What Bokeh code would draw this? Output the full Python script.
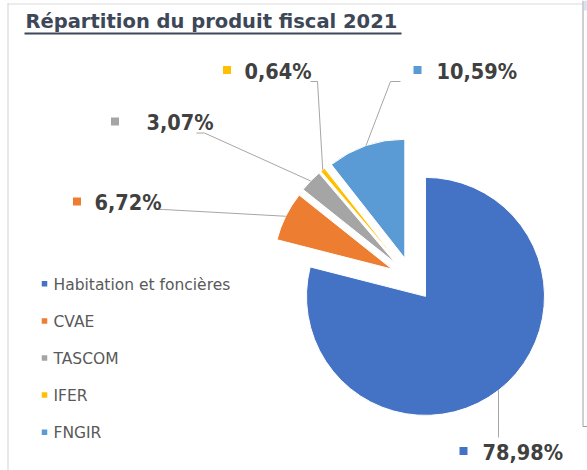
import numpy as np
from bokeh.plotting import figure
from bokeh.models import Range1d
from bokeh.core.properties import value
from bokeh.embed import file_html
from bokeh.resources import INLINE

# ---------------- data ----------------
title_text = "Répartition du produit fiscal 2021"
categories = ["Habitation et foncières", "CVAE", "TASCOM", "IFER", "FNGIR"]
shares = [78.98, 6.72, 3.07, 0.64, 10.59]
colors = ["#4472C4", "#ED7D31", "#A5A5A5", "#FFC000", "#5B9BD5"]

# ---------------- layout ----------------
W, H = 587, 470
def sx(X):
    return X
def sy(Y):
    return H - Y

TXT_K = 0.38   # baseline correction (fraction of font size)
def by(Y, fs):
    return sy(Y - TXT_K * fs)

CX, CY = 411.5, 278.5     # pie centre (picture px)
R = 119                   # radius in px
EXPLODE = 22              # explosion offset in px

# label layout per category: text_x, baseline_y, square_x, leader start, leader knee
label_layout = [
    (482, 460, 463, (498, 437), (498, 437)),
    (94, 210.5, 76.5, (158, 209), (163, 209)),
    (146, 130.5, 114.5, (196, 132.5), (204, 132.5)),
    (244, 79, 226.5, (310, 81), (317, 81)),
    (436, 79, 417, (400, 81), (390, 81)),
]
LABEL_FS = 21.5

LEG_SQ_X, LEG_TX_X, LEG_Y0, LEG_STEP = 44, 53, 283.3, 37.1
LEG_FS = 15.5
TITLE_FS = 19.5

LABEL_FONT = "DejaVu Sans Condensed"
TEXT_FONT = "DejaVu Sans"

p = figure(width=W, height=H, output_backend="svg", toolbar_location=None,
           x_range=Range1d(0, W), y_range=Range1d(0, H),
           x_axis_type=None, y_axis_type=None, min_border=0)
p.grid.visible = False
p.outline_line_color = None
p.background_fill_color = "white"
p.border_fill_color = "white"

# chart area borders
p.segment(x0=[7.5, 7], y0=[sy(3), sy(3.5)], x1=[7.5, 582], y1=[0, sy(3.5)],
          line_color="#d9d9d9", line_width=1.2)
p.line(x=[582.5, 582.5, 587], y=[H, sy(426), sy(426)], line_color="#a0a0a0", line_width=1)
p.quad(left=[583.5], right=[587], top=[H], bottom=[sy(10)], fill_color="#d6e4f5", line_color=None)

# ---------------- pie ----------------
total = float(sum(shares))
cum = np.concatenate([[0.0], np.cumsum(shares)]) / total * 360.0
th1 = cum[:-1]
th2 = cum[1:]
thm = (th1 + th2) / 2.0
rad = np.radians(thm)
dirx = np.sin(rad)
diry = np.cos(rad)
cxs = sx(CX) + EXPLODE * dirx
cys = sy(CY) + EXPLODE * diry
start = np.radians(90.0 - th2)
end = np.radians(90.0 - th1)

p.wedge(x=list(cxs), y=list(cys), radius=R, start_angle=list(start), end_angle=list(end),
        fill_color=colors, line_color="white", line_width=1)

# ---------------- leader lines ----------------
xs, ys = [], []
for i in range(len(shares)):
    _, _, _, st, kn = label_layout[i]
    ex = cxs[i] + R * dirx[i]
    ey = cys[i] + R * diry[i]
    xs.append([sx(st[0]), sx(kn[0]), ex])
    ys.append([sy(st[1]), sy(kn[1]), ey])
p.multi_line(xs=xs, ys=ys, line_color="#a6a6a6", line_width=1)

# ---------------- data labels ----------------
label_texts = [("%.2f" % v).replace(".", ",") + "%" for v in shares]
p.scatter(x=[sx(l[2]) for l in label_layout], y=[sy(l[1] - 9.5) for l in label_layout],
          marker="square", size=8, fill_color=colors, line_color=None)
p.text(x=[sx(l[0]) for l in label_layout], y=[by(l[1], LABEL_FS) for l in label_layout],
       text=label_texts, text_font=value(LABEL_FONT), text_font_style="bold",
       text_font_size="%spx" % LABEL_FS, text_color="#404040",
       text_align="left", text_baseline="alphabetic")

# ---------------- legend ----------------
leg_y = [LEG_Y0 + k * LEG_STEP for k in range(len(categories))]
p.scatter(x=[sx(LEG_SQ_X)] * len(categories), y=[sy(v) for v in leg_y],
          marker="square", size=5.5, fill_color=colors, line_color=None)
p.text(x=[sx(LEG_TX_X)] * len(categories), y=[by(v + 6.7, LEG_FS) for v in leg_y], text=categories,
       text_font=value(TEXT_FONT), text_font_size="%spx" % LEG_FS, text_color="#595959",
       text_align="left", text_baseline="alphabetic")

# ---------------- title ----------------
TITLE_COLOR = "#3d4757"
p.text(x=[sx(25)], y=[by(28.5, TITLE_FS)], text=[title_text], text_font=value(TEXT_FONT),
       text_font_style="bold", text_font_size="%spx" % TITLE_FS, text_color=TITLE_COLOR,
       text_align="left", text_baseline="alphabetic")
p.segment(x0=[sx(24)], y0=[sy(33)], x1=[sx(401)], y1=[sy(33)], line_color=TITLE_COLOR, line_width=2)

open("out.html", "w").write(file_html(p, INLINE, title="Répartition du produit fiscal 2021"))
